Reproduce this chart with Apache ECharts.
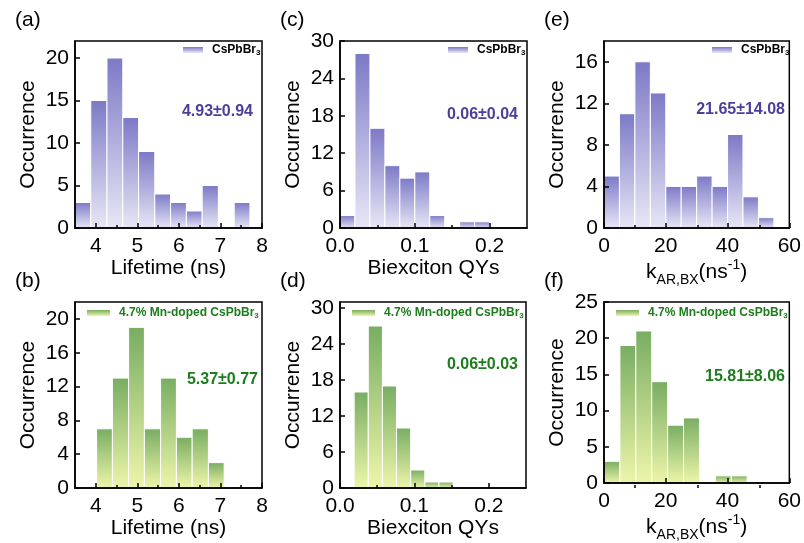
<!DOCTYPE html>
<html><head><meta charset="utf-8">
<script src="https://cdn.jsdelivr.net/npm/echarts@6/dist/echarts.min.js"></script>
<style>html,body{margin:0;padding:0;background:#fff}#c{width:804px;height:543px}</style>
</head><body><div id="c"></div>
<script>
// ---- data ----
const aEdges = [3.50, 3.88, 4.27, 4.65, 5.03, 5.42, 5.80, 6.18, 6.56, 6.95, 7.33, 7.71];
const aCounts = [3, 15, 20, 13, 9, 4, 3, 2, 5, 0, 3];
const bEdges = [4.02, 4.40, 4.79, 5.17, 5.56, 5.94, 6.32, 6.71, 7.09];
const bCounts = [7, 13, 19, 7, 13, 6, 7, 3];
const cEdges = [0, 0.02, 0.04, 0.06, 0.08, 0.10, 0.12, 0.14, 0.16, 0.18, 0.20];
const cCounts = [2, 28, 16, 10, 8, 9, 2, 0, 1, 1];
const dEdges = [0.019, 0.038, 0.057, 0.076, 0.095, 0.114, 0.133, 0.152];
const dCounts = [16, 27, 17, 10, 3, 1, 1];
const eEdges = [0, 5, 10, 15, 20, 25, 30, 35, 40, 45, 50, 55];
const eCounts = [5, 11, 16, 13, 4, 4, 5, 4, 9, 3, 1];
const fEdges = [0, 5.15, 10.3, 15.45, 20.6, 25.75, 30.9, 36.05, 41.2, 46.35];
const fCounts = [3, 19, 21, 14, 8, 9, 0, 1, 1];

const lifeTicks = [4, 5, 6, 7, 8];
const lifeMinor = [4.5, 5.5, 6.5, 7.5];
const qyTicks = [0, 0.1, 0.2];
const qyTickLabels = ['0.0', '0.1', '0.2'];
const qyMinor = [0.05, 0.15];
const kTicks = [0, 20, 40, 60];
const kMinor = [10, 30, 50];
const yTicksA = [0, 5, 10, 15, 20];
const yTicksB = [0, 4, 8, 12, 16, 20];
const yTicksCD = [0, 6, 12, 18, 24, 30];
const yTicksE = [0, 4, 8, 12, 16];
const yTicksF = [0, 5, 10, 15, 20, 25];

const stats = ['4.93±0.94', '5.37±0.77', '0.06±0.04', '0.06±0.03', '21.65±14.08', '15.81±8.06'];
const nameUndoped = 'CsPbBr3';
const nameDoped = '4.7% Mn-doped CsPbBr3';

// ---- styling / layout ----
const FONT = '"Liberation Sans", Arial, sans-serif';
const purple = () => new echarts.graphic.LinearGradient(0, 0, 0, 1, [
  {offset: 0, color: '#7c79c6'}, {offset: 1, color: '#e8e7f6'}]);
const green = () => new echarts.graphic.LinearGradient(0, 0, 0, 1, [
  {offset: 0, color: '#78ad62'}, {offset: 1, color: '#eef6aa'}]);

const panels = [
  {id:'a', edges:aEdges, counts:aCounts, xmin:3.5, xmax:8, xt:lifeTicks, xl:null, xm:lifeMinor, ymax:22, yt:yTicksA,
   xname:'Lifetime (ns)', left:75, top:41, w:187, h:187, doped:false, stat:[253,112]},
  {id:'b', edges:bEdges, counts:bCounts, xmin:3.5, xmax:8, xt:lifeTicks, xl:null, xm:lifeMinor, ymax:22, yt:yTicksB,
   xname:'Lifetime (ns)', left:75, top:302, w:187, h:186, doped:true, stat:[258,380]},
  {id:'c', edges:cEdges, counts:cCounts, xmin:0, xmax:0.25, xt:qyTicks, xl:qyTickLabels, xm:qyMinor, ymax:30, yt:yTicksCD,
   xname:'Biexciton QYs', left:340, top:41, w:187, h:187, doped:false, stat:[518,115]},
  {id:'d', edges:dEdges, counts:dCounts, xmin:0, xmax:0.25, xt:qyTicks, xl:qyTickLabels, xm:qyMinor, ymax:31, yt:yTicksCD,
   xname:'Biexciton QYs', left:340, top:302, w:186, h:186, doped:true, stat:[518,365]},
  {id:'e', edges:eEdges, counts:eCounts, xmin:0, xmax:60, xt:kTicks, xl:null, xm:kMinor, ymax:18, yt:yTicksE,
   xname:'k', left:604, top:41, w:187, h:187, doped:false, stat:[785,110]},
  {id:'f', edges:fEdges, counts:fCounts, xmin:0, xmax:60, xt:kTicks, xl:null, xm:kMinor, ymax:25, yt:yTicksF,
   xname:'k', left:604, top:302, w:187, h:186, doped:true, stat:[785,377]},
];

const grid = [], xAxis = [], yAxis = [], series = [], legend = [], graphic = [];
panels.forEach((p, i) => {
  const g = 2 * i;
  grid.push({left:p.left, top:p.top, width:p.w, height:p.h, show:true, borderColor:'#000', borderWidth:1.5, z:10, containLabel:false});
  grid.push({left:p.left, top:p.top, width:p.w, height:p.h, show:false, z:10});
  const isK = p.xname === 'k';
  const nameRich = {
    m:{fontSize:21, fontFamily:FONT, color:'#000', lineHeight:26, verticalAlign:'middle'},
    sub:{fontSize:14, fontFamily:FONT, color:'#000', lineHeight:14, verticalAlign:'bottom', padding:[0,0,-2,0]},
    sup:{fontSize:14, fontFamily:FONT, color:'#000', lineHeight:14, verticalAlign:'top', padding:[-1,0,0,0]}
  };
  xAxis.push({type:'value', gridIndex:g, min:p.xmin, max:p.xmax, z:12,
    name: isK ? '{m|k}{sub|AR,BX}{m|(ns}{sup|-1}{m|)}' : p.xname,
    nameLocation:'middle', nameGap: isK ? 26 : 28,
    nameTextStyle: isK ? {rich:nameRich} : {fontSize:21, fontFamily:FONT, color:'#000'},
    axisLine:{show:true, lineStyle:{color:'#000', width:1.5}},
    axisTick:{show:true, inside:true, length:5, lineStyle:{color:'#000', width:1.5}, customValues:p.xt},
    axisLabel:{show:true, fontSize:21, fontFamily:FONT, color:'#000', margin:8, customValues:p.xt,
      formatter: v => { if (p.xl) { const k = p.xt.findIndex(t => Math.abs(t - v) < 1e-9); return k >= 0 ? p.xl[k] : ''; } return String(v); }},
    splitLine:{show:false}});
  xAxis.push({type:'value', gridIndex:g+1, min:p.xmin, max:p.xmax, z:12,
    axisLine:{show:false},
    axisTick:{show:true, inside:true, length:3, lineStyle:{color:'#000', width:1.5}, customValues:p.xm},
    axisLabel:{show:false}, splitLine:{show:false}});
  yAxis.push({type:'value', gridIndex:g, min:0, max:p.ymax, z:12,
    name:'Occurrence', nameLocation:'middle', nameGap:36,
    nameTextStyle:{fontSize:21, fontFamily:FONT, color:'#000'},
    axisLine:{show:true, lineStyle:{color:'#000', width:1.5}},
    axisTick:{show:true, inside:true, length:5, lineStyle:{color:'#000', width:1.5}, customValues:p.yt},
    axisLabel:{show:true, fontSize:21, fontFamily:FONT, color:'#000', margin:6, customValues:p.yt},
    splitLine:{show:false}});
  yAxis.push({type:'value', gridIndex:g+1, min:0, max:p.ymax, show:false});

  const data = p.counts.map((c, k) => [p.edges[k], p.edges[k+1], c]);
  const sname = p.doped ? nameDoped : nameUndoped;
  const fillFn = p.doped ? green : purple;
  series.push({type:'custom', name:sname, xAxisIndex:2*i, yAxisIndex:2*i, z:2, clip:true,
    itemStyle:{color: fillFn()},
    encode:{x:[0,1], y:2},
    data:data,
    renderItem:(params, api) => {
      const c = api.value(2);
      if (!c) return null;
      const p0 = api.coord([api.value(0), c]);
      const p1 = api.coord([api.value(1), 0]);
      return {type:'rect', shape:{x:p0[0], y:p0[1], width:p1[0]-p0[0], height:p1[1]-p0[1]},
        style:{fill: fillFn(), stroke:'#fff', lineWidth:1}};
    }});

  const legColor = p.doped ? '#1d7d1d' : '#000';
  const legLeft = p.doped ? p.left + 12 : p.left + p.w - 79;
  legend.push({show:true, left:legLeft, top:p.top + (p.doped ? 5 : 3), padding:0, itemGap:0,
    itemWidth:p.doped ? 23 : 20, itemHeight:6, icon:'rect',
    data:[{name:sname, itemStyle:{color:fillFn()}}],
    formatter: n => '{t|' + n.slice(0, -1) + '}{s|3}',
    textStyle:{padding:[0,0,0,4], rich:{
      t:{fontSize:12, fontWeight:'bold', fontFamily:FONT, color:legColor, lineHeight:14, verticalAlign:'middle'},
      s:{fontSize:8, fontWeight:'bold', fontFamily:FONT, color:legColor, lineHeight:10, verticalAlign:'bottom'}}},
    selectedMode:false});

  graphic.push({type:'text', left: p.left - 60, top: p.top - 31, z:20,
    style:{text:'(' + p.id + ')', fontSize:21, fontFamily:FONT, fill:'#000'}});
  graphic.push({type:'text', x:p.stat[0], y:p.stat[1], z:20,
    style:{text:stats[i], fontSize:16, fontWeight:'bold', fontFamily:FONT,
      fill: p.doped ? '#1d7d1d' : '#4b3f9c', align:'right', verticalAlign:'middle'}});
});

const chart = echarts.init(document.getElementById('c'), null, {renderer:'canvas'});
chart.setOption({animation:false, backgroundColor:'#fff', grid, xAxis, yAxis, series, legend, graphic});
</script></body></html>
